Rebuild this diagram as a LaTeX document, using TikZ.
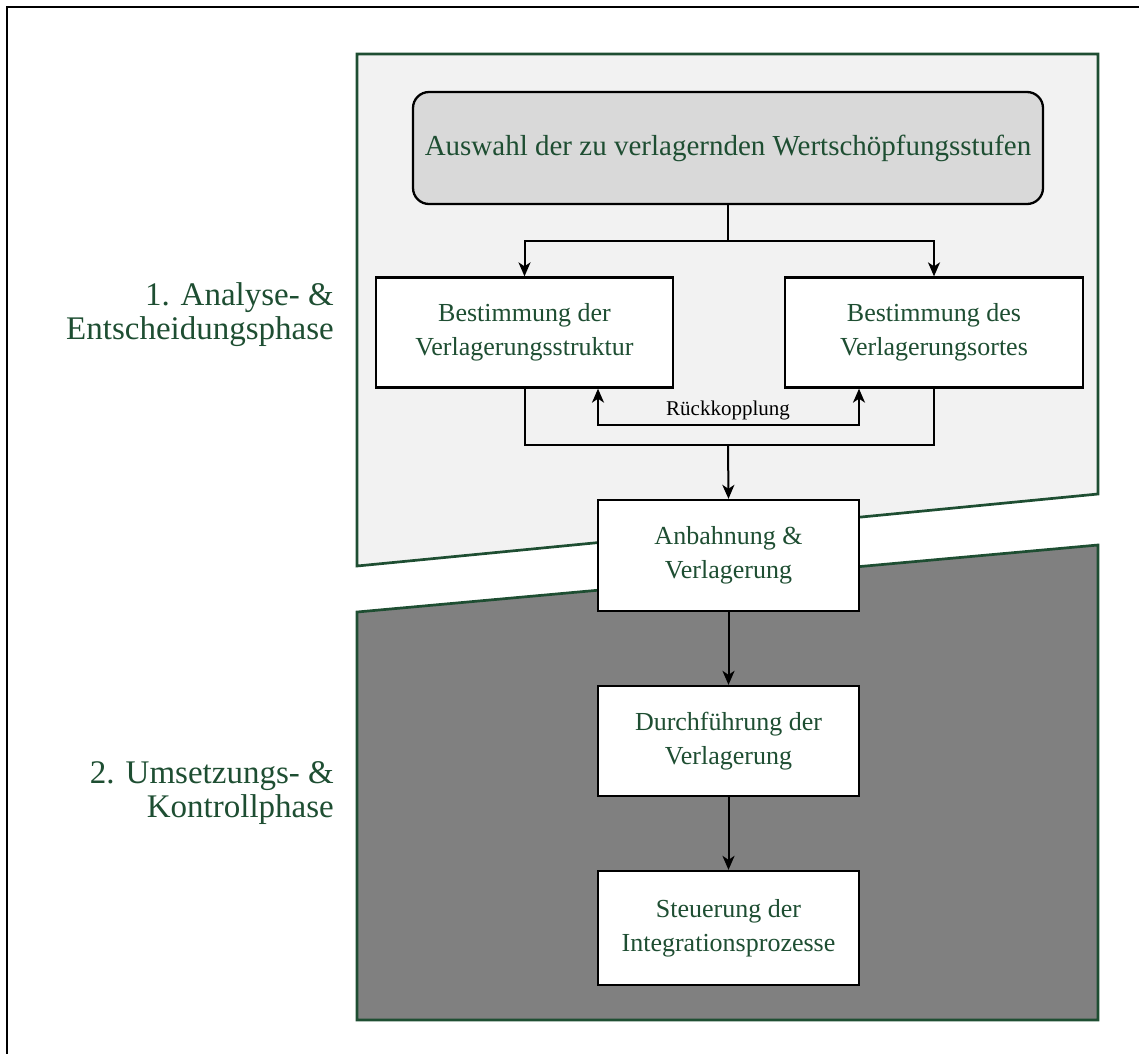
\documentclass[tikz,border=0pt]{standalone}
\usepackage{fontspec}
\setmainfont{Liberation Serif}
\usetikzlibrary{arrows.meta}
\definecolor{phasegreen}{RGB}{30,78,50}
\definecolor{panellight}{RGB}{242,242,242}
\definecolor{paneldark}{RGB}{128,128,128}
\definecolor{headfill}{RGB}{217,217,217}

\begin{document}
\begin{tikzpicture}[x=1pt,y=-1pt,
  flowtip/.tip={Stealth[length=14pt,width=12pt,inset=4pt]},
  panel/.style={draw=phasegreen,line width=2.7pt,line join=miter},
  stepbox/.style={draw=black,line width=2.3pt,fill=white,text=phasegreen,align=center,
    font=\fontsize{26}{34}\selectfont,minimum width=297pt,minimum height=110pt,inner sep=0pt},
  link/.style={line width=2pt},
  flow/.style={link,-flowtip},
  phaselabel/.style={text=phasegreen,align=right,anchor=east,
    font=\fontsize{33}{34}\selectfont,inner sep=0pt}]

\useasboundingbox (0,0) rectangle (1139,1053);
\clip (0,0) rectangle (1139,1053);

% outer frame
\draw[line width=1.5pt] (7,7) rectangle (1160,1070);

% phase panels
\draw[panel,fill=panellight] (357,54) -- (1098,54) -- (1098,494) -- (357,566) -- cycle;
\draw[panel,fill=paneldark] (357,612) -- (1098,545) -- (1098,1020) -- (357,1020) -- cycle;

% process steps
\node[stepbox,fill=headfill,rounded corners=16pt,minimum width=630pt,minimum height=112pt,
  font=\fontsize{29}{34}\selectfont] (select) at (728,148)
  {Auswahl der zu verlagernden Wertschöpfungsstufen};
\node[stepbox] (struct) at (524.5,332.5) {Bestimmung der\\Verlagerungsstruktur};
\node[stepbox,minimum width=298pt] (site) at (934,332.5) {Bestimmung des\\Verlagerungsortes};
\node[stepbox,minimum width=261pt,minimum height=111pt] (prep) at (728.5,555.5) {Anbahnung \&\\Verlagerung};
\node[stepbox,minimum width=261pt] (exec) at (728.5,741) {Durchführung der\\Verlagerung};
\node[stepbox,minimum width=261pt,minimum height=114pt] (ctrl) at (728.5,928) {Steuerung der\\Integrationsprozesse};

% branching
\coordinate (split) at (728,241);
\draw[link] (select.south) -- (split);
\draw[flow] (split) -| (struct.north);
\draw[flow] (split) -| (site.north);

% merging
\coordinate (merge) at (728,445);
\draw[link] (struct.south) |- (merge) -| (site.south);
\draw[flow] (merge) -- (prep.north);

% feedback loop
\coordinate (fbL) at (598,425);
\coordinate (fbR) at (859,425);
\draw[link,flowtip-flowtip] (fbL |- struct.south) -- (fbL) -- (fbR) -- (fbR |- site.south);
\node[font=\fontsize{21}{24}\selectfont,inner sep=0pt] (fblabel) at (728,410) {Rückkopplung};

% implementation chain
\draw[flow] (prep) -- (exec);
\draw[flow] (exec) -- (ctrl);

% phase labels
\node[phaselabel] (phase1) at (334,315) {1. Analyse- \&\\Entscheidungsphase};
\node[phaselabel] (phase2) at (334,793) {2. Umsetzungs- \&\\Kontrollphase};
\end{tikzpicture}
\end{document}
